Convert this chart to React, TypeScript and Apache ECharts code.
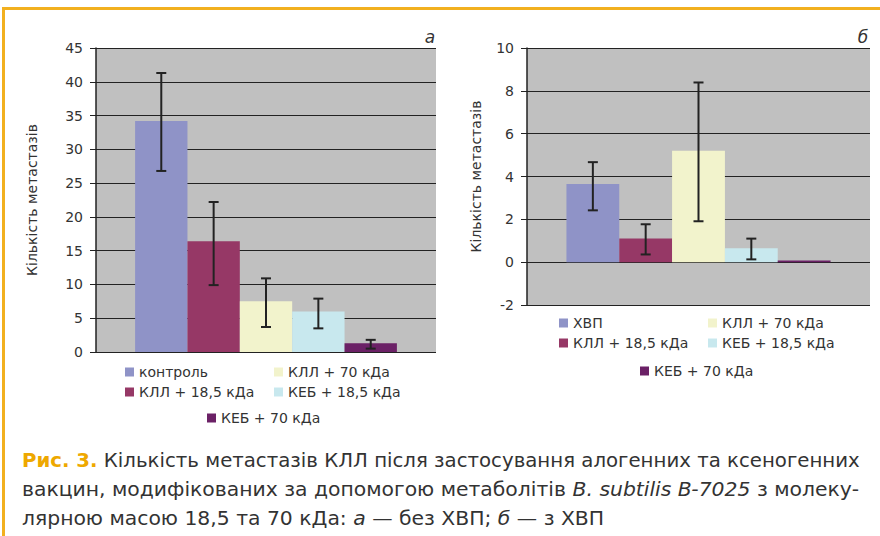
import React, { useEffect, useRef } from "react";
import * as echarts from "echarts";

const categories = [""];
const namesA = ["контроль", "КЛЛ + 18,5 кДа", "КЛЛ + 70 кДа", "КЕБ + 18,5 кДа", "КЕБ + 70 кДа"];
const namesB = ["ХВП", "КЛЛ + 18,5 кДа", "КЛЛ + 70 кДа", "КЕБ + 18,5 кДа", "КЕБ + 70 кДа"];
const valuesA = [34.2, 16.4, 7.5, 6.0, 1.3];
const errLowA = [26.8, 9.9, 3.7, 3.5, 0.5];
const errHighA = [41.3, 22.2, 10.9, 7.9, 1.8];
const valuesB = [3.65, 1.1, 5.2, 0.65, 0.08];
const errLowB: (number | null)[] = [2.42, 0.36, 1.91, 0.13, null];
const errHighB: (number | null)[] = [4.67, 1.77, 8.39, 1.1, null];
const colors = ["#8f93c7", "#963866", "#f2f3cc", "#c8e8ee", "#6b2166"];
const yTitle = "Кількість метастазів";

const GAP = 0.23;
const FONT = "'DejaVu Sans', sans-serif";
const CAP_FONT = "'DejaVu Sans Condensed', 'DejaVu Sans', sans-serif";
const TXT = "#333333";

function errRender(params: any, api: any) {
  const idx = api.value(3);
  const lo = api.coord([0, api.value(1)]);
  const hi = api.coord([0, api.value(2)]);
  const band = api.size([1, 0])[0];
  const bw = (band * (1 - GAP)) / 5;
  const x = lo[0] + (idx - 2) * bw;
  const st = { stroke: "#222", lineWidth: 2 };
  return {
    type: "group",
    children: [
      { type: "line", shape: { x1: x, y1: lo[1], x2: x, y2: hi[1] }, style: st },
      { type: "line", shape: { x1: x - 5, y1: lo[1], x2: x + 5, y2: lo[1] }, style: st },
      { type: "line", shape: { x1: x - 5, y1: hi[1], x2: x + 5, y2: hi[1] }, style: st },
    ],
  };
}

function yAxisCfg(gridIndex: number, min: number, max: number, interval: number, gap: number) {
  return {
    type: "value",
    gridIndex,
    min,
    max,
    interval,
    name: yTitle,
    nameLocation: "middle",
    nameGap: gap,
    nameTextStyle: { fontFamily: FONT, fontSize: 14, color: TXT },
    axisLine: { show: true, lineStyle: { color: "#222", width: 1.5 } },
    axisTick: { show: true, length: 6, lineStyle: { color: "#222" } },
    axisLabel: { fontFamily: FONT, fontSize: 14, color: TXT, margin: 13 },
    splitLine: { show: true, lineStyle: { color: "#222", width: 1 } },
  };
}

function xAxisCfg(gridIndex: number) {
  return {
    type: "category",
    gridIndex,
    data: categories,
    axisLine: { show: false },
    axisTick: { show: false },
    axisLabel: { show: false },
    splitLine: { show: false },
  };
}

function legendCfg(left: number, top: number, data: string[]) {
  return {
    orient: "vertical",
    left,
    top,
    data,
    icon: "rect",
    itemWidth: 9,
    itemHeight: 9,
    itemGap: 6,
    selectedMode: false,
    textStyle: { fontFamily: FONT, fontSize: 14, color: TXT },
  };
}

function captionLine(y: number, text: string, scaleX: number) {
  return {
    type: "text",
    x: 22,
    y,
    scaleX,
    style: {
      text,
      fontFamily: CAP_FONT,
      fontSize: 19,
      fill: TXT,
      verticalAlign: "middle",
      rich: {
        b: { fontFamily: CAP_FONT, fontSize: 19, fontWeight: "bold", fill: "#eea800" },
        i: { fontFamily: CAP_FONT, fontSize: 19, fontStyle: "italic", fill: TXT },
      },
    },
  };
}

export default function App() {
  const ref = useRef<HTMLDivElement>(null);
  useEffect(() => {
    if (!ref.current) return;
    document.body.style.margin = "0";
    const chart = echarts.init(ref.current, undefined, { renderer: "svg" });
    const series: any[] = [];
    namesA.forEach((n, i) => {
      series.push({
        type: "bar",
        name: n,
        xAxisIndex: 0,
        yAxisIndex: 0,
        data: [valuesA[i]],
        itemStyle: { color: colors[i] },
        barGap: "0%",
        barCategoryGap: GAP * 100 + "%",
      });
    });
    namesB.forEach((n, i) => {
      series.push({
        type: "bar",
        name: n,
        xAxisIndex: 1,
        yAxisIndex: 1,
        data: [valuesB[i]],
        itemStyle: { color: colors[i] },
        barGap: "0%",
        barCategoryGap: GAP * 100 + "%",
      });
    });
    series.push({
      type: "custom",
      xAxisIndex: 0,
      yAxisIndex: 0,
      z: 10,
      renderItem: errRender,
      encode: { x: 0, y: [1, 2] },
      data: errLowA.map((lo, i) => [0, lo, errHighA[i], i]),
    });
    series.push({
      type: "custom",
      xAxisIndex: 1,
      yAxisIndex: 1,
      z: 10,
      renderItem: errRender,
      encode: { x: 0, y: [1, 2] },
      data: errLowB
        .map((lo, i) => (lo === null ? null : [0, lo, errHighB[i], i]))
        .filter((d) => d !== null),
    });

    chart.setOption({
      animation: false,
      grid: [
        { left: 96, right: 444, top: 48, bottom: 184, show: true, backgroundColor: "#c0c0c0", borderWidth: 0 },
        { left: 527, right: 10, top: 48, bottom: 231, show: true, backgroundColor: "#c0c0c0", borderWidth: 0 },
      ],
      xAxis: [xAxisCfg(0), xAxisCfg(1)],
      yAxis: [yAxisCfg(0, 0, 45, 5, 57), yAxisCfg(1, -2, 10, 2, 44)],
      legend: [
        legendCfg(120, 360, [namesA[0], namesA[1]]),
        legendCfg(269, 360, [namesA[2], namesA[3]]),
        legendCfg(202, 406, [namesA[4]]),
        legendCfg(554, 311, [namesB[0], namesB[1]]),
        legendCfg(703, 311, [namesB[2], namesB[3]]),
        legendCfg(635, 359, [namesB[4]]),
      ],
      series,
      graphic: [
        { type: "rect", shape: { x: 2, y: 7, width: 878, height: 3 }, style: { fill: "#f2b01f" }, silent: true },
        { type: "rect", shape: { x: 2, y: 7, width: 3, height: 529 }, style: { fill: "#f2b01f" }, silent: true },
        {
          type: "text",
          x: 430,
          y: 45,
          style: { text: "а", fontFamily: FONT, fontSize: 17, fontStyle: "italic", fill: TXT, align: "center", verticalAlign: "bottom" },
        },
        {
          type: "text",
          x: 863,
          y: 45,
          style: { text: "б", fontFamily: FONT, fontSize: 17, fontStyle: "italic", fill: TXT, align: "center", verticalAlign: "bottom" },
        },
        captionLine(461, "{b|Рис. 3.} Кількість метастазів КЛЛ після застосування алогенних та ксеногенних", 1.155),
        captionLine(490, "вакцин, модифікованих за допомогою метаболітів {i|B. subtilis B-7025} з молеку-", 1.19),
        captionLine(519, "лярною масою 18,5 та 70 кДа: {i|а} — без ХВП; {i|б} — з ХВП", 1.19),
      ],
    });
    return () => chart.dispose();
  }, []);
  return <div ref={ref} style={{ width: 880, height: 536 }} />;
}
